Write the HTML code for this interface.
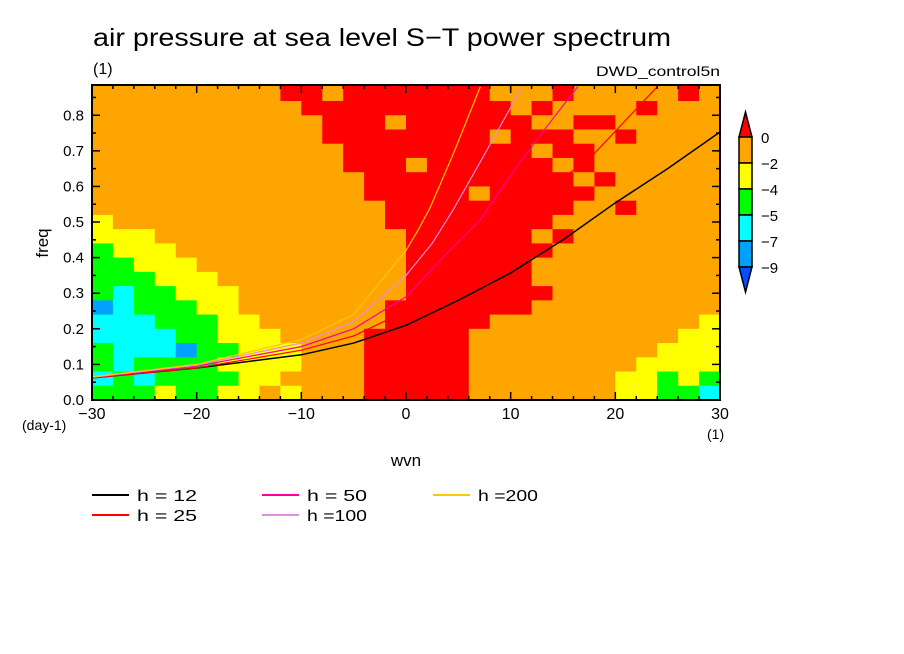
<!DOCTYPE html>
<html><head><meta charset="utf-8"><style>
body{margin:0;background:#fff;width:904px;height:654px;overflow:hidden}
svg{display:block;font-family:"Liberation Sans","DejaVu Sans",sans-serif}
</style></head><body>
<svg id="chart" width="904" height="654">
<text x="93" y="46" font-size="25" textLength="578" lengthAdjust="spacingAndGlyphs">air pressure at sea level S−T power spectrum</text>
<text x="93" y="74" font-size="16">(1)</text>
<text x="596" y="76" font-size="14" textLength="124" lengthAdjust="spacingAndGlyphs">DWD_control5n</text>
<g id="cells"></g>
<g id="curves"></g>
<rect x="92" y="85" width="628" height="315" fill="none" stroke="#000" stroke-width="2"/>
<g id="ticks"></g>
<text x="22" y="430" font-size="14">(day-1)</text>
<text x="707" y="439" font-size="14">(1)</text>
<text x="406" y="466" font-size="17" text-anchor="middle">wvn</text>
<text x="48" y="243" font-size="17" text-anchor="middle" transform="rotate(-90 48 243)">freq</text>
<g id="cbar"></g>
<g id="legend"></g>
</svg>
<script>
const NS="http://www.w3.org/2000/svg";
const kMin=-30,kMax=30,fMin=0,fMax=0.885;
const colorLevels=["#ff0000","#ffa500","#ffff00","#00ff00","#00ffff","#00a0ff"];
const cbarLabels=["0","-2","-4","-5","-7","-9"];
const xTicks=[-30,-20,-10,0,10,20,30];
const yTicks=[0,0.1,0.2,0.3,0.4,0.5,0.6,0.7,0.8];
const rowFreqTop=[0.88,0.84,0.80,0.76,0.72,0.68,0.64,0.60,0.56,0.52,0.48,0.44,0.40,0.36,0.32,0.28,0.24,0.20,0.16,0.12,0.08,0.04];
const gridRows=[
"111111111001000000011101111101",
"111111111100000000001011110111",
"111111111110001000000110011111",
"111111111110000000010001101111",
"111111111111000000000100111111",
"111111111111000100000010111111",
"111111111111100000000001011111",
"111111111111100000100000111111",
"111111111111110000000001101111",
"211111111111110000000011111111",
"222111111111111000000101111111",
"322211111111111000000011111111",
"332221111111111000000111111111",
"333222111111111000000111111111",
"343322211111111000000011111111",
"543332211111110000000111111111",
"444333221111110000011111111112",
"444433222111100000111111111122",
"344453322211100000111111111222",
"343333222211100000111111112222",
"434333322111100000111111122323",
"333233221211100000111111122334"];
const curveNames=["h = 12","h = 25","h = 50","h =100","h =200"];
const curveColors=["#000000","#ff0000","#ff00a0","#e090e0","#ffc800"];
const curveK=[
[-30,-20,-10,-5,0,5,10,15,20,25,30],
[-30,-20,-10,-5,0,5,10,13.4,17.6,24],
[-30,-20,-10,-5,0,3.5,7.1,10.2,13.5,16.4],
[-30,-20,-10,-5,0,2.5,4.5,7.5,11.1],
[-30,-20,-10,-5,0,1.2,2.3,4.5,7.1]];
const curveF=[
[0.062,0.09,0.127,0.16,0.21,0.28,0.357,0.45,0.554,0.65,0.753],
[0.062,0.09,0.14,0.18,0.25,0.37,0.49,0.59,0.68,0.88],
[0.063,0.095,0.15,0.2,0.29,0.4,0.506,0.64,0.77,0.88],
[0.064,0.098,0.16,0.22,0.35,0.44,0.534,0.69,0.88],
[0.065,0.10,0.17,0.24,0.42,0.48,0.54,0.69,0.88]];
const X=k=>92+(k-kMin)/(kMax-kMin)*628;
const Y=f=>400-(f-fMin)/(fMax-fMin)*315;
function mk(tag,attrs,parent){const e=document.createElementNS(NS,tag);for(const a in attrs)e.setAttribute(a,attrs[a]);parent.appendChild(e);return e;}
const cells=document.getElementById('cells');
const nC=gridRows[0].length,dk=(kMax-kMin)/nC;
gridRows.forEach((row,r)=>{
  const ft=r===0?fMax:rowFreqTop[r], fb=rowFreqTop[r]-0.04;
  for(let c=0;c<nC;c++){
    const e=mk('rect',{x:X(kMin+c*dk),y:Y(ft),width:X(kMin+(c+1)*dk)-X(kMin+c*dk)+0.5,height:Y(fb)-Y(ft)+0.5,fill:colorLevels[+row[c]]},cells);
    
    
  }
});
const curves=document.getElementById('curves');
curveK.forEach((ks,i)=>{
  const pts=ks.map((k,j)=>X(k)+','+Y(curveF[i][j])).join(' ');
  const e=mk('polyline',{points:pts,fill:'none',stroke:curveColors[i],'stroke-width':i===0?1.5:1.2},curves);
  
  
});
const ticks=document.getElementById('ticks');
for(let k=kMin;k<=kMax;k+=2){const big=k%10===0,l=big?8:4;
  mk('line',{x1:X(k),x2:X(k),y1:400,y2:400-l,stroke:'#000','stroke-width':1.5},ticks);
  mk('line',{x1:X(k),x2:X(k),y1:85,y2:85+l,stroke:'#000','stroke-width':1.5},ticks);}
for(let i=0;i<=17;i++){const f=i*0.05,big=i%2===0,l=big?8:4;
  mk('line',{x1:92,x2:92+l,y1:Y(f),y2:Y(f),stroke:'#000','stroke-width':1.5},ticks);
  mk('line',{x1:720,x2:720-l,y1:Y(f),y2:Y(f),stroke:'#000','stroke-width':1.5},ticks);}
xTicks.forEach(k=>{const t=mk('text',{x:X(k),y:419,'font-size':16,'text-anchor':'middle'},ticks);t.textContent=(k<0?'−':'')+Math.abs(k);
  
  });
yTicks.forEach(f=>{const t=mk('text',{x:84,y:Y(f)+5,'font-size':15,'text-anchor':'end'},ticks);t.textContent=f.toFixed(1);
  
  });
const cb=document.getElementById('cbar');
mk('polygon',{points:'745.5,112 739,137 752,137',fill:'#ff0000',stroke:'#000','stroke-width':1.5},cb);
[1,2,3,4,5].forEach((lv,i)=>{mk('rect',{x:739,y:137+i*26,width:13,height:26,fill:colorLevels[lv],stroke:'#000','stroke-width':1.5},cb);});
mk('polygon',{points:'739,267 752,267 745.5,292',fill:'#0050ff',stroke:'#000','stroke-width':1.5},cb);
cbarLabels.forEach((s,i)=>{const t=mk('text',{x:761,y:143+i*26,'font-size':15},cb);t.textContent=s.replace('-','−');
  
  });
const lg=document.getElementById('legend');
const lpos=[[92,495],[92,515],[262,495],[262,515],[433,495]];
curveNames.forEach((n,i)=>{const [x,y]=lpos[i];
  const g=mk('g',{},lg);
  
  
  mk('line',{x1:x,x2:x+37,y1:y,y2:y,stroke:curveColors[i],'stroke-width':2},g);
  const t=mk('text',{x:x+45,y:y+6,'font-size':16,'textLength':60,'lengthAdjust':'spacingAndGlyphs'},g);t.textContent=n;});
</script>
</body></html>
